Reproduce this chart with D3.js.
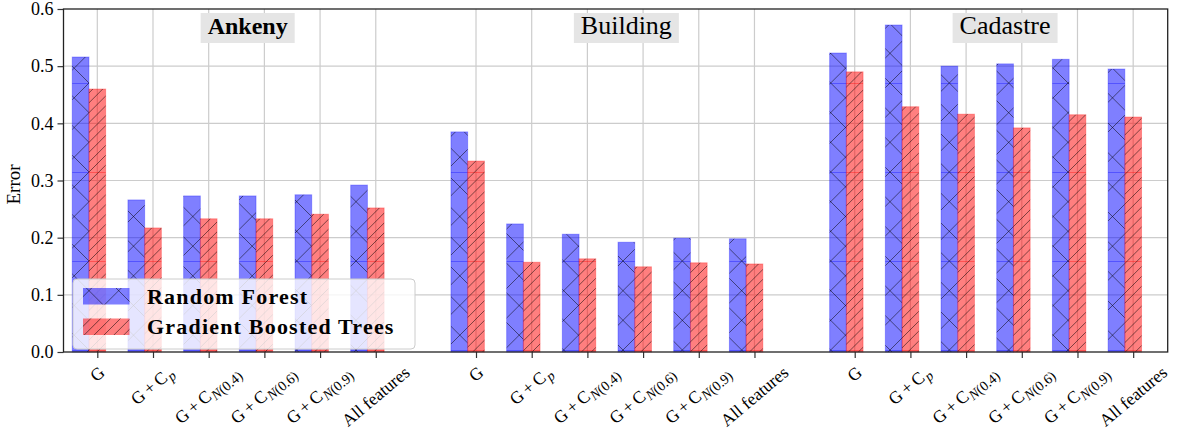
<!DOCTYPE html>
<html>
<head>
<meta charset="utf-8">
<script src="https://cdn.jsdelivr.net/npm/d3@7"></script>
<style>
  body { margin: 0; background: #fff; }
  svg { display: block; }
  text { font-family: "Liberation Serif", "Times New Roman", serif; fill: #000; }
</style>
</head>
<body>
<svg id="chart" width="1178" height="433"></svg>
<script>
// ---- data -------------------------------------------------------------
const datasets = ["Ankeny", "Building", "Cadastre"];
const boldTitle = [true, false, false];

const tickMain   = ["G", "G\u2009+\u2009C", "G\u2009+\u2009C", "G\u2009+\u2009C", "G\u2009+\u2009C", "All features"];
const tickSubVar = ["", "p", "N", "N", "N", ""];
const tickSubArg = ["", "", "(0.4)", "(0.6)", "(0.9)", ""];

const seriesNames = ["Random Forest", "Gradient Boosted Trees"];

// error per feature set, one array per dataset and model
const rfAnkeny    = [0.516, 0.266, 0.273, 0.273, 0.275, 0.292];
const gbtAnkeny   = [0.460, 0.217, 0.233, 0.233, 0.241, 0.252];
const rfBuilding  = [0.385, 0.224, 0.206, 0.192, 0.199, 0.198];
const gbtBuilding = [0.334, 0.157, 0.163, 0.149, 0.156, 0.154];
const rfCadastre  = [0.523, 0.572, 0.500, 0.504, 0.512, 0.495];
const gbtCadastre = [0.490, 0.429, 0.416, 0.392, 0.415, 0.411];

const yTicks = [0.0, 0.1, 0.2, 0.3, 0.4, 0.5, 0.6];

const rfValues  = [rfAnkeny, rfBuilding, rfCadastre];
const gbtValues = [gbtAnkeny, gbtBuilding, gbtCadastre];

// ---- layout -----------------------------------------------------------
const plot = { left: 63.5, right: 1167.7, top: 9, bottom: 352 };
const groupStride = 6.8;   // distance between dataset groups, in slot units
const barW = 0.3;          // bar width, in slot units

const x = d3.scaleLinear().domain([-0.607, 19.22]).range([plot.left, plot.right]);
const y = d3.scaleLinear().domain([0, 0.6]).range([plot.bottom, plot.top]);

const slots = [];
datasets.forEach((ds, g) => {
  tickMain.forEach((_, i) => {
    slots.push({ g, i, u: g * groupStride + i, rf: rfValues[g][i], gbt: gbtValues[g][i] });
  });
});

const svg = d3.select("#chart");
const defs = svg.append("defs");

// hatch patterns: "x" for random forest, "///" for boosted trees
const T = 89, seamY = 83;
function makeHatch(id, spacing, cross, seamColor) {
  const p = defs.append("pattern").attr("id", id)
    .attr("patternUnits", "userSpaceOnUse")
    .attr("x", 0).attr("y", seamY).attr("width", T).attr("height", T);
  let d = "";
  const n = Math.round(T / spacing);
  for (let k = -n; k <= n; k++) {
    const o = k * spacing;
    d += `M${o},${T}L${o + T},0`;
    if (cross) d += `M${o},0L${o + T},${T}`;
  }
  p.append("path").attr("d", `M0,0.5L${T},0.5`)
    .attr("stroke", seamColor).attr("stroke-opacity", 0.35).attr("stroke-width", 1);
  p.append("path").attr("d", d).attr("fill", "none")
    .attr("stroke", "#000").attr("stroke-opacity", 0.5).attr("stroke-width", 1);
}
makeHatch("hatchRF", T / 3, true, "#0000ff");
makeHatch("hatchGBT", T / 9, false, "#ff0000");

// ---- grid -------------------------------------------------------------
const grid = svg.append("g").attr("stroke", "#cccccc").attr("stroke-width", 1.2);
grid.selectAll("line.v").data(slots).join("line").attr("class", "v")
  .attr("x1", d => x(d.u)).attr("x2", d => x(d.u))
  .attr("y1", plot.top).attr("y2", plot.bottom);
grid.selectAll("line.h").data(yTicks.slice(1, -1)).join("line").attr("class", "h")
  .attr("x1", plot.left).attr("x2", plot.right)
  .attr("y1", d => y(d)).attr("y2", d => y(d));

// ---- bars -------------------------------------------------------------
function drawBars(key, offset, color, hatch) {
  const g = svg.append("g");
  const sel = g.selectAll("g").data(slots).join("g");
  const bx = d => x(d.u + offset - barW / 2);
  const bw = x(barW) - x(0);
  sel.append("rect")
    .attr("x", bx).attr("width", bw)
    .attr("y", d => y(d[key])).attr("height", d => y(0) - y(d[key]))
    .attr("fill", color).attr("fill-opacity", 0.5)
    .attr("stroke", color).attr("stroke-opacity", 0.3).attr("stroke-width", 1);
  sel.append("rect")
    .attr("x", bx).attr("width", bw)
    .attr("y", d => y(d[key])).attr("height", d => y(0) - y(d[key]))
    .attr("fill", `url(#${hatch})`);
}
drawBars("rf", -barW, "#0000ff", "hatchRF");
drawBars("gbt", 0, "#ff0000", "hatchGBT");

// ---- axes -------------------------------------------------------------
const yAxis = svg.append("g").attr("transform", `translate(${plot.left},0)`)
  .call(d3.axisLeft(y).tickValues(yTicks).tickFormat(d3.format(".1f")).tickSize(6).tickPadding(4));
yAxis.select(".domain").remove();
yAxis.selectAll(".tick line").attr("stroke", "#333").attr("stroke-width", 1.2);
yAxis.selectAll(".tick text").attr("font-size", 18)
  .attr("font-family", "Liberation Serif, serif").attr("fill", "#111");

const xAxis = svg.append("g").attr("transform", `translate(0,${plot.bottom})`)
  .call(d3.axisBottom(x).tickValues(slots.map(d => d.u)).tickFormat("").tickSize(6));
xAxis.select(".domain").remove();
xAxis.selectAll(".tick line").attr("stroke", "#333").attr("stroke-width", 1.2);

// frame
svg.append("rect")
  .attr("x", plot.left).attr("y", plot.top)
  .attr("width", plot.right - plot.left).attr("height", plot.bottom - plot.top)
  .attr("fill", "none").attr("stroke", "#222").attr("stroke-width", 1.3);

// rotated category labels, bounding box centred under each tick
const angle = 40, rad = angle * Math.PI / 180;
const labelTop = plot.bottom + 10;
slots.forEach(d => {
  const g = svg.append("g");
  const t = g.append("text").attr("font-size", 17.5);
  t.append("tspan").text(tickMain[d.i]);
  if (tickSubVar[d.i]) {
    t.append("tspan").attr("font-size", 14).attr("font-style", "italic")
      .attr("dy", 4).attr("dx", 1).text(tickSubVar[d.i]);
    if (tickSubArg[d.i]) t.append("tspan").attr("font-size", 14).text(tickSubArg[d.i]);
  }
  const bb = t.node().getBBox();
  t.attr("transform", `translate(${-(bb.x + bb.width / 2)},${-(bb.y + bb.height / 2)})`);
  const hr = bb.width * Math.sin(rad) + bb.height * Math.cos(rad);
  g.attr("transform", `translate(${x(d.u)},${labelTop + hr / 2}) rotate(${-angle})`);
});

// y axis title
svg.append("text")
  .attr("transform", `translate(20,${(plot.top + plot.bottom) / 2 + 4}) rotate(-90)`)
  .attr("text-anchor", "middle").attr("font-size", 19).text("Error");

// ---- dataset titles -----------------------------------------------------
datasets.forEach((name, g) => {
  const cx = x(g * groupStride + 2.7);
  const grp = svg.append("g");
  const box = grp.append("rect").attr("fill", "#e5e5e5");
  const t = grp.append("text").attr("x", cx).attr("y", 34)
    .attr("text-anchor", "middle").attr("font-size", boldTitle[g] ? 24 : 26)
    .attr("font-weight", boldTitle[g] ? "bold" : "normal")
    .text(name);
  const bb = t.node().getBBox();
  box.attr("x", bb.x - 7).attr("width", bb.width + 14).attr("y", 13).attr("height", 30);
});

// ---- legend -------------------------------------------------------------
const legend = svg.append("g");
legend.append("rect")
  .attr("x", 73).attr("y", 279).attr("width", 342).attr("height", 70).attr("rx", 4)
  .attr("fill", "#fff").attr("fill-opacity", 0.8)
  .attr("stroke", "#cccccc").attr("stroke-width", 1);
const legendItems = [
  { name: seriesNames[0], color: "#0000ff", hatch: "hatchRF", y: 288 },
  { name: seriesNames[1], color: "#ff0000", hatch: "hatchGBT", y: 318.5 }
];
legendItems.forEach(it => {
  legend.append("rect").attr("x", 83).attr("y", it.y).attr("width", 46.5).attr("height", 16.5)
    .attr("fill", it.color).attr("fill-opacity", 0.5);
  legend.append("rect").attr("x", 83).attr("y", it.y).attr("width", 46.5).attr("height", 16.5)
    .attr("fill", `url(#${it.hatch})`);
  legend.append("text").attr("x", 147).attr("y", it.y + 15.5)
    .attr("font-size", 22).attr("font-weight", "bold").attr("letter-spacing", 1.2)
    .text(it.name);
});
</script>
</body>
</html>
